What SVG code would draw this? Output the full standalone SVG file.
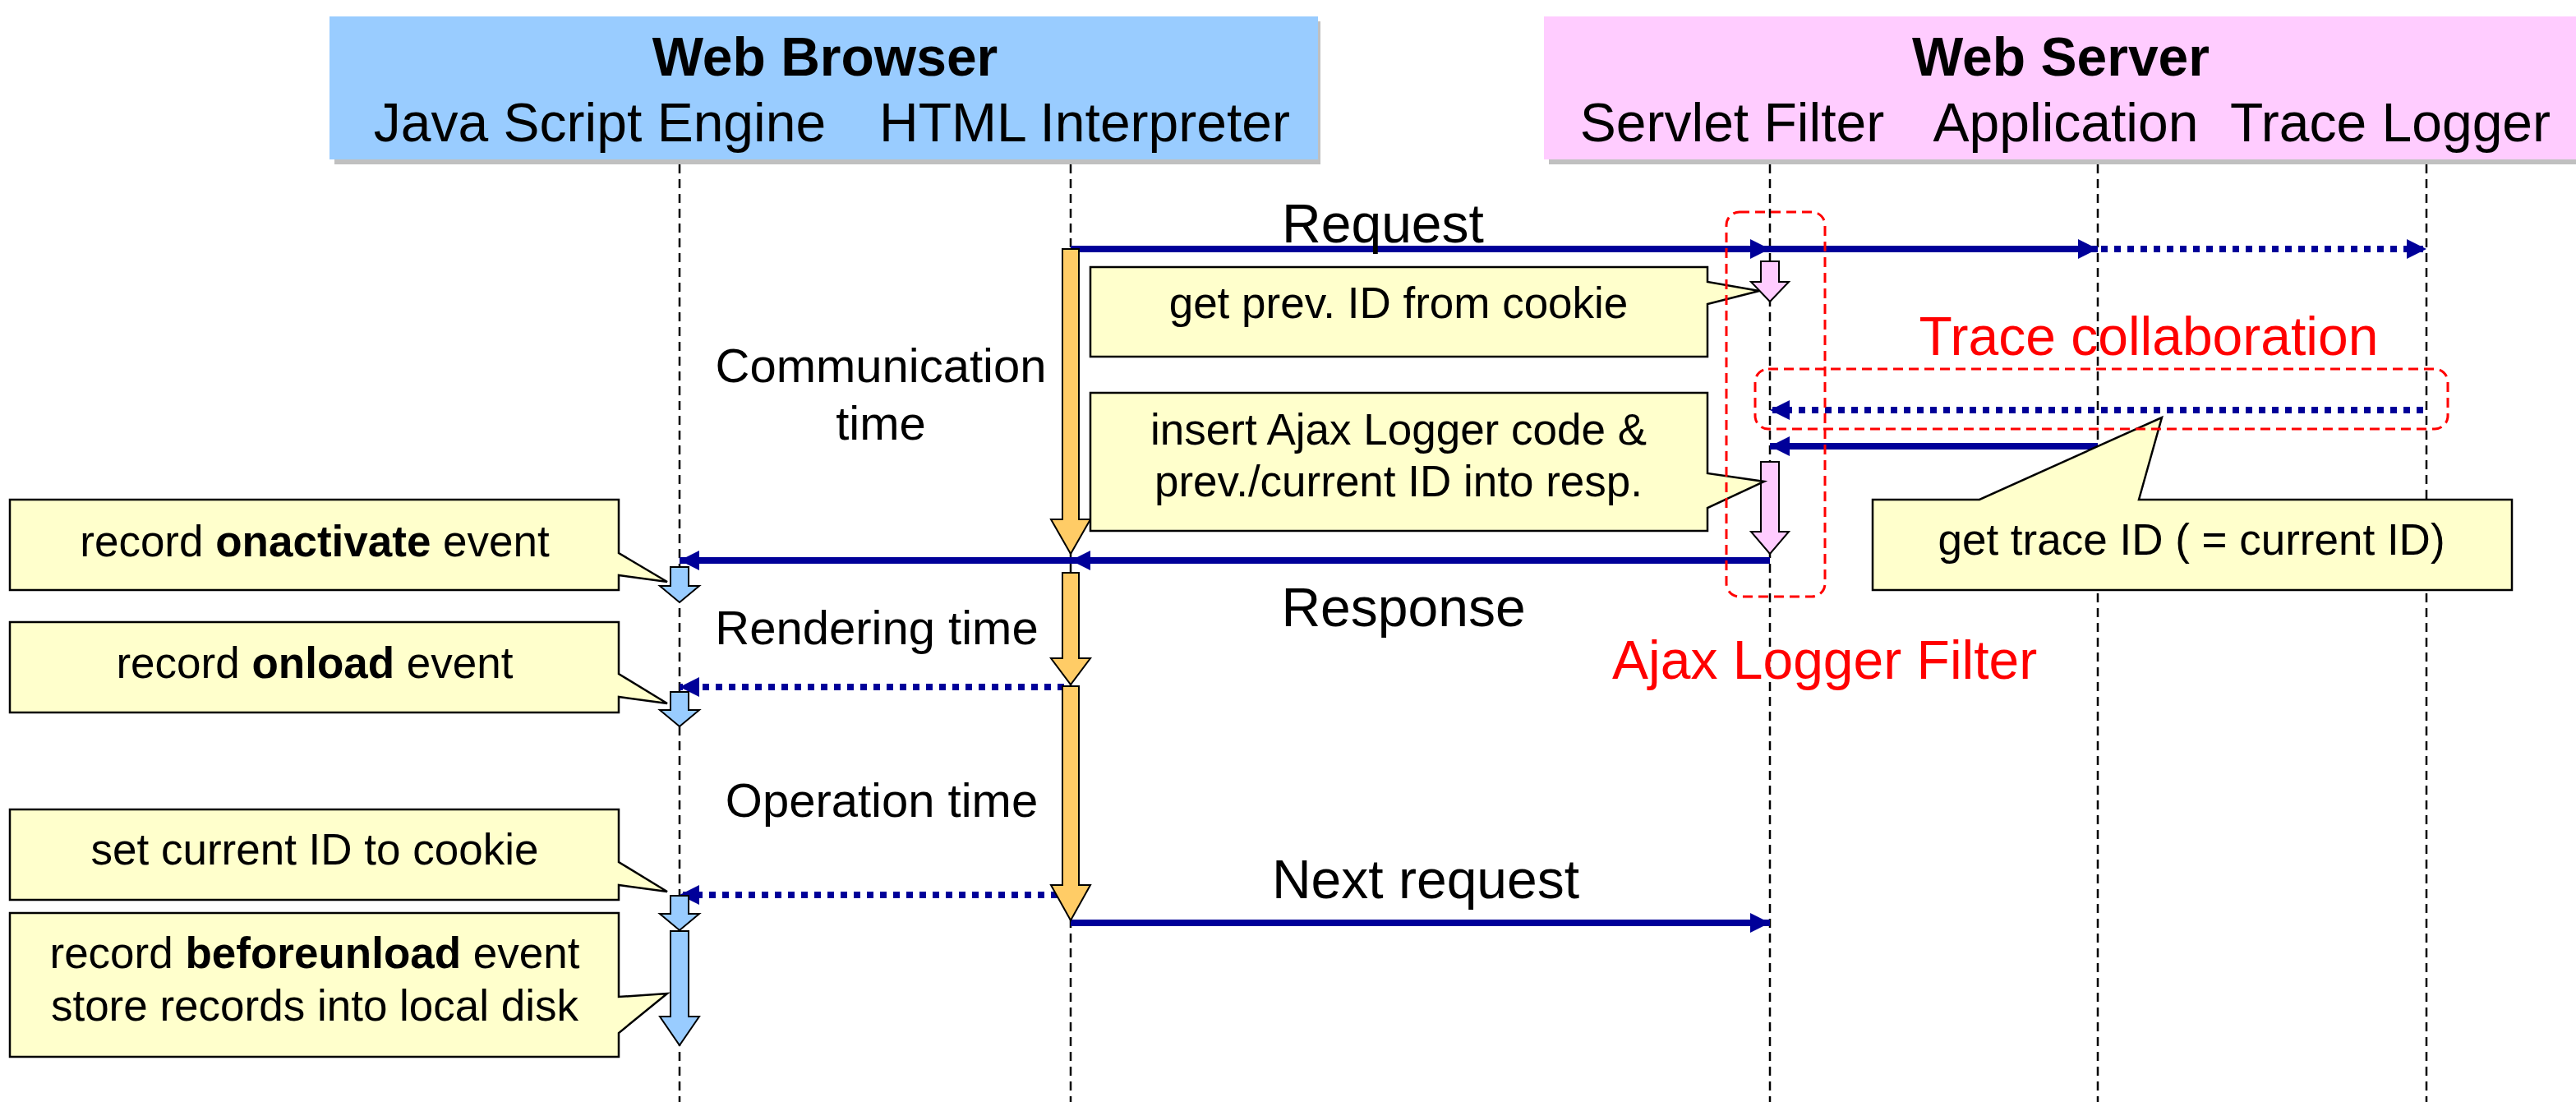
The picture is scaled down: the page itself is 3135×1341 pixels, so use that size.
<svg xmlns="http://www.w3.org/2000/svg" width="3135" height="1341" viewBox="0 0 3135 1341">
<style>
text{font-family:"Liberation Sans",Arial,sans-serif;fill:#000}
.hd{font-size:66px}
.b{font-weight:bold}
.al{font-size:66px;text-anchor:middle}
.tl{font-size:58px;text-anchor:middle}
.ct{font-size:53px;text-anchor:middle}
.red{font-size:66px;fill:#FF0000}
.life{stroke:#000;stroke-width:2.5;stroke-dasharray:11 7;fill:none}
.msg{stroke:#000099;stroke-width:8;fill:none;marker-end:url(#ah)}
.dot{stroke-dasharray:8 8}
.call{fill:#FFFFCC;stroke:#000;stroke-width:2.5;stroke-linejoin:miter}
.act{stroke:#000;stroke-width:2;stroke-linejoin:miter}
.grp{fill:none;stroke:#FF0000;stroke-width:3;stroke-dasharray:12 7}
</style>
<defs>
<marker id="ah" markerUnits="userSpaceOnUse" markerWidth="26" markerHeight="26" refX="24" refY="12" orient="auto">
<path d="M0,0 L24,12 L0,24 z" fill="#000099"/>
</marker>
</defs>
<rect width="3135" height="1341" fill="#fff"/>

<g id="browser-header">
<rect x="407" y="26" width="1200" height="174" fill="#C0C0C0"/>
<rect x="401" y="20" width="1203" height="174" fill="#99CCFF"/>
<text class="hd b" x="1004" y="92" text-anchor="middle">Web Browser</text>
<text class="hd" x="730" y="172" text-anchor="middle">Java Script Engine</text>
<text class="hd" x="1320" y="172" text-anchor="middle">HTML Interpreter</text>
</g>
<g id="server-header">
<rect x="1885" y="26" width="1260" height="174" fill="#C0C0C0"/>
<rect x="1879" y="20" width="1260" height="174" fill="#FFCCFF"/>
<text class="hd b" x="2508" y="92" text-anchor="middle">Web Server</text>
<text class="hd" x="2108" y="172" text-anchor="middle">Servlet Filter</text>
<text class="hd" x="2514" y="172" text-anchor="middle">Application</text>
<text class="hd" x="2909" y="172" text-anchor="middle">Trace Logger</text>
</g>

<g id="lifelines">
<line class="life" x1="827" y1="200" x2="827" y2="1341"/>
<line class="life" x1="1303" y1="200" x2="1303" y2="1341"/>
<line class="life" x1="2154" y1="200" x2="2154" y2="1341"/>
<line class="life" x1="2553" y1="200" x2="2553" y2="1341"/>
<line class="life" x1="2953" y1="200" x2="2953" y2="1341"/>
</g>

<g id="connectors">
<line class="msg" x1="1303" y1="303" x2="2154" y2="303"/>
<line class="msg" x1="2154" y1="303" x2="2553" y2="303"/>
<line class="msg dot" x1="2557" y1="303" x2="2953" y2="303"/>
<line class="msg dot" x1="2949" y1="499" x2="2154" y2="499"/>
<line class="msg" x1="2553" y1="543" x2="2154" y2="543"/>
<line class="msg" x1="2154" y1="682" x2="1303" y2="682"/>
<line class="msg" x1="1303" y1="682" x2="827" y2="682"/>
<line class="msg dot" x1="1295" y1="836" x2="827" y2="836"/>
<line class="msg dot" x1="1287" y1="1089" x2="827" y2="1089"/>
<line class="msg" x1="1303" y1="1123" x2="2154" y2="1123"/>
</g>

<g id="labels">
<text class="al" x="1683" y="295">Request</text>
<text class="al" x="1708" y="762">Response</text>
<text class="al" x="1735" y="1093">Next request</text>
<text class="tl" x="1072" y="465">Communication</text>
<text class="tl" x="1072" y="535">time</text>
<text class="tl" x="1067" y="784">Rendering time</text>
<text class="tl" x="1073" y="994">Operation time</text>
</g>

<g id="activations">
<path class="act" fill="#FFCC66" d="M1293,303 H1313 V632 H1327 L1303,674 L1279,632 H1293 Z"/>
<path class="act" fill="#FFCC66" d="M1293,697 H1313 V801 H1327 L1303,833 L1279,801 H1293 Z"/>
<path class="act" fill="#FFCC66" d="M1293,835 H1313 V1077 H1327 L1303,1120 L1279,1077 H1293 Z"/>
<path class="act" fill="#FFCCFF" d="M2143,318 H2165 V343 H2177 L2154,367 L2131,343 H2143 Z"/>
<path class="act" fill="#FFCCFF" d="M2143,562 H2165 V647 H2177 L2154,674 L2131,647 H2143 Z"/>
<path class="act" fill="#99CCFF" d="M816,690 H838 V713 H851 L827,733 L803,713 H816 Z"/>
<path class="act" fill="#99CCFF" d="M816,842 H838 V864 H851 L827,884 L803,864 H816 Z"/>
<path class="act" fill="#99CCFF" d="M816,1090 H838 V1112 H851 L827,1132 L803,1112 H816 Z"/>
<path class="act" fill="#99CCFF" d="M816,1133 H838 V1237 H851 L827,1272 L803,1237 H816 Z"/>
</g>

<g id="note-prev-id">
<path class="call" d="M1327,325 H2078 V343 L2141,354 L2078,370 V434 H1327 Z"/>
<text class="ct" x="1702" y="387">get prev. ID from cookie</text>
</g>
<g id="note-insert">
<path class="call" d="M1327,478 H2078 V576 L2147,586 L2078,618 V646 H1327 Z"/>
<text class="ct" x="1702" y="541">insert Ajax Logger code &amp;</text>
<text class="ct" x="1702" y="604">prev./current ID into resp.</text>
</g>
<g id="note-trace-id">
<path class="call" d="M2279,608 H2409 L2631,508 L2603,608 H3057 V718 H2279 Z"/>
<text class="ct" x="2667" y="675">get trace ID ( = current ID)</text>
</g>
<g id="note-onactivate">
<path class="call" d="M12,608 H753 V673 L812,708 L753,700 V718 H12 Z"/>
<text class="ct" x="383" y="677">record <tspan class="b">onactivate</tspan> event</text>
</g>
<g id="note-onload">
<path class="call" d="M12,757 H753 V820 L812,856 L753,848 V867 H12 Z"/>
<text class="ct" x="383" y="825">record <tspan class="b">onload</tspan> event</text>
</g>
<g id="note-set-cookie">
<path class="call" d="M12,985 H753 V1049 L812,1085 L753,1077 V1095 H12 Z"/>
<text class="ct" x="383" y="1052">set current ID to cookie</text>
</g>
<g id="note-beforeunload">
<path class="call" d="M12,1111 H753 V1213 L812,1209 L753,1257 V1286 H12 Z"/>
<text class="ct" x="383" y="1178">record <tspan class="b">beforeunload</tspan> event</text>
<text class="ct" x="383" y="1242">store records into local disk</text>
</g>

<g id="ajax-logger-filter">
<rect class="grp" x="2101" y="258" width="120" height="468" rx="16"/>
<text class="red" x="1962" y="826">Ajax Logger Filter</text>
</g>
<g id="trace-collaboration">
<rect class="grp" x="2136" y="449" width="843" height="73" rx="16"/>
<text class="red" x="2615" y="432" text-anchor="middle">Trace collaboration</text>
</g>
</svg>
